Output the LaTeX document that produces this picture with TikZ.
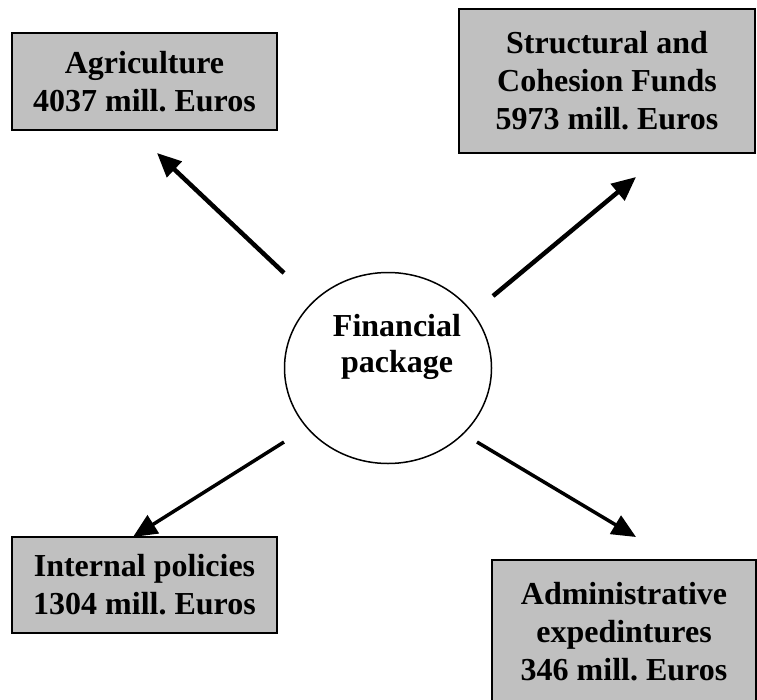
\documentclass[tikz,border=0pt]{standalone}
\usepackage{fontspec}
\setmainfont{Liberation Serif}
\usetikzlibrary{arrows.meta,shapes.geometric}
\frenchspacing

\tikzset{
  box/.style={rectangle, draw=black, line width=1.5pt, fill=boxgray, align=center,
    font=\fontsize{32}{38}\selectfont\bfseries, inner sep=0pt},
  hub/.style={ellipse, draw=black, line width=1.5pt, inner sep=0pt,
    minimum width=207pt, minimum height=191pt},
  flow/.style={-{Triangle[length=24pt, width=21pt]}, line width=4.5pt},
  thinflow/.style={-{Triangle[length=24pt, width=21pt]}, line width=3.5pt}
}
\definecolor{boxgray}{RGB}{192,192,192}

\begin{document}
\begin{tikzpicture}[x=1pt, y=-1pt]
\useasboundingbox (0,0) rectangle (757,699);
\clip (0,0) rectangle (757,699);

% centre
\node[hub] (pkg) at (388,368) {};
\node[align=center, font=\fontsize{32}{36}\selectfont\bfseries] (pkgtext) at (397,347) {Financial\\package};

% the four budget headings
\node[box, minimum width=265pt, minimum height=97pt] (agri) at (144.5,81.5) {Agriculture\\4037 mill. Euros};
\node[box, minimum width=296pt, minimum height=144pt] (funds) at (607,81) {Structural and\\Cohesion Funds\\5973 mill. Euros};
\node[box, minimum width=265pt, minimum height=96pt] (inpol) at (144.5,585) {Internal policies\\1304 mill. Euros};
\node[box, minimum width=264pt, minimum height=144pt] (admin) at (624,632) {Administrative\\expedintures\\346 mill. Euros};

% arrow ends
\coordinate (agri-from) at (284,273);
\coordinate (agri-to) at (157,153);
\coordinate (funds-from) at (493,296);
\coordinate (funds-to) at (636,177);
\coordinate (inpol-from) at (284,442);
\coordinate (inpol-to) at (133,537);
\coordinate (admin-from) at (477,442);
\coordinate (admin-to) at (636,537);

\draw[flow] (agri-from) -- (agri-to);
\draw[flow] (funds-from) -- (funds-to);
\draw[thinflow] (inpol-from) -- (inpol-to);
\draw[thinflow] (admin-from) -- (admin-to);
\end{tikzpicture}
\end{document}
